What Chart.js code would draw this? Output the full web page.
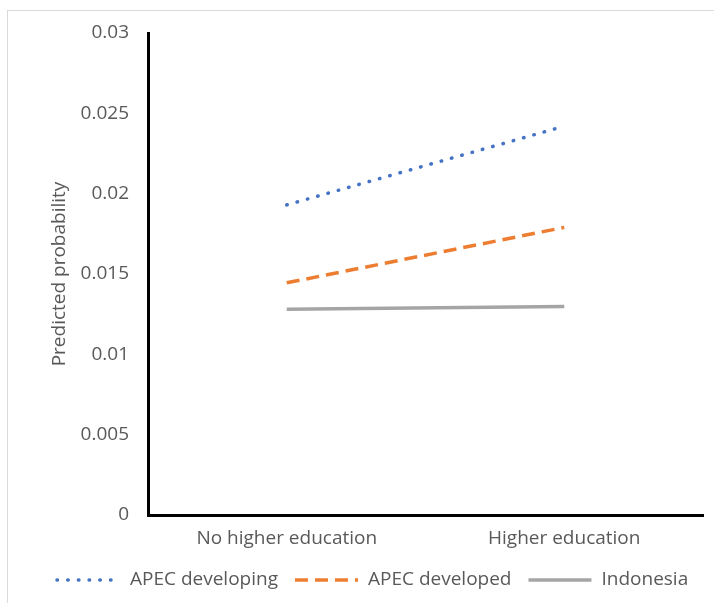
<!DOCTYPE html>
<html>
<head>
<meta charset="utf-8">
<script src="https://cdn.jsdelivr.net/npm/chart.js@4"></script>
<style>
  body { margin: 0; background: #fff; }
  canvas { display: block; }
</style>
</head>
<body>
<canvas id="myChart" width="714" height="603"></canvas>
<script>
// donnees
const categories = ["No higher education", "Higher education"];
const apecDeveloping = [0.0193, 0.0242];
const apecDeveloped = [0.01445, 0.0179];
const indonesia = [0.0128, 0.01297];
const yTicks = [0, 0.005, 0.01, 0.015, 0.02, 0.025, 0.03];

const textColor = "#595959";
const fontFamily = "'Open Sans', sans-serif";
const fontSize = 19;

// cadre gris clair + legende en bas
const extras = {
    id: "extras",
    beforeDraw(chart) {
        const ctx = chart.ctx;
        ctx.save();
        ctx.strokeStyle = "#d9d9d9";
        ctx.lineWidth = 1;
        ctx.strokeRect(7.5, 10.5, 900, 900);
        ctx.restore();
    },
    afterDraw(chart) {
        const ctx = chart.ctx;
        const y = 580;
        ctx.save();
        ctx.font = fontSize + "px " + fontFamily;
        ctx.fillStyle = textColor;
        ctx.textBaseline = "middle";
        let x = 57;
        chart.data.datasets.forEach(ds => {
            ctx.beginPath();
            ctx.strokeStyle = ds.borderColor;
            ctx.lineWidth = ds.borderWidth;
            ctx.lineCap = ds.borderCapStyle || "butt";
            ctx.setLineDash(ds.borderDash || []);
            ctx.moveTo(x, y);
            ctx.lineTo(x + 63, y);
            ctx.stroke();
            ctx.setLineDash([]);
            x += 73;
            ctx.fillText(ds.label, x, y);
            x += ctx.measureText(ds.label).width + 17;
        });
        ctx.restore();
    }
};

new Chart(document.getElementById("myChart"), {
    type: "line",
    data: {
        labels: categories,
        datasets: [
            {
                label: "APEC developing",
                data: apecDeveloping,
                borderColor: "#4472C4",
                borderWidth: 3.5,
                borderDash: [0.5, 10.2],
                borderCapStyle: "round",
                pointRadius: 0,
                fill: false
            },
            {
                label: "APEC developed",
                data: apecDeveloped,
                borderColor: "#ED7D31",
                borderWidth: 3.5,
                borderDash: [13, 7],
                pointRadius: 0,
                fill: false
            },
            {
                label: "Indonesia",
                data: indonesia,
                borderColor: "#A5A5A5",
                borderWidth: 3.5,
                pointRadius: 0,
                fill: false
            }
        ]
    },
    options: {
        responsive: false,
        animation: false,
        layout: {
            padding: { left: 0, top: 33, right: 11, bottom: 48 }
        },
        plugins: {
            legend: { display: false },
            tooltip: { enabled: false }
        },
        scales: {
            x: {
                offset: true,
                grid: { display: false, drawTicks: false },
                border: { display: true, color: "#000", width: 3 },
                ticks: {
                    color: textColor,
                    font: { family: fontFamily, size: fontSize },
                    padding: 12,
                    maxRotation: 0
                },
                afterFit: s => { s.height = 40; }
            },
            y: {
                min: 0,
                max: 0.03,
                grid: { display: false, drawTicks: false },
                border: { display: true, color: "#000", width: 3 },
                afterBuildTicks: s => { s.ticks = yTicks.map(v => ({ value: v })); },
                ticks: {
                    color: textColor,
                    font: { family: fontFamily, size: fontSize },
                    padding: 19,
                    callback: v => String(+v.toFixed(3))
                },
                title: {
                    display: true,
                    text: "Predicted probability",
                    color: textColor,
                    font: { family: fontFamily, size: fontSize },
                    padding: { top: 48, bottom: 0 }
                },
                afterFit: s => { s.width = 148; }
            }
        }
    },
    plugins: [extras]
});
</script>
</body>
</html>
